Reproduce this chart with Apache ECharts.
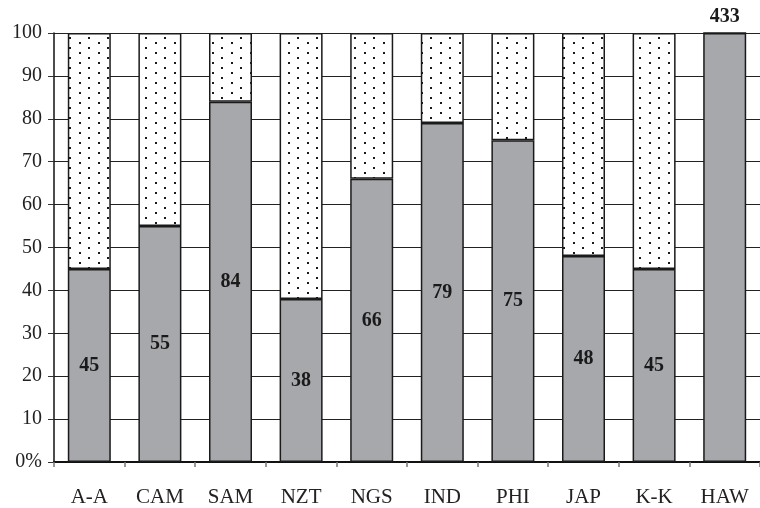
<!DOCTYPE html>
<html>
<head>
<meta charset="utf-8">
<script src="https://cdn.jsdelivr.net/npm/echarts@6/dist/echarts.min.js"></script>
<style>
html,body{margin:0;padding:0;background:#fff;}
#chart{width:760px;height:508px;}
</style>
</head>
<body>
<div id="chart"></div>
<script>
// ---- data ----
var categories = ['A-A','CAM','SAM','NZT','NGS','IND','PHI','JAP','K-K','HAW'];
var sharePct   = [45, 55, 84, 38, 66, 79, 75, 48, 45, 100];
var restPct    = [55, 45, 16, 62, 34, 21, 25, 52, 55, 0];
var barLabels  = ['45','55','84','38','66','79','75','48','45',''];
var hawCount   = '433';
var yTickLabels = ['0%','10','20','30','40','50','60','70','80','90','100'];

// dotted pattern
var pc = document.createElement('canvas');
pc.width = 19; pc.height = 10;
var ctx = pc.getContext('2d');
ctx.fillStyle = '#ffffff';
ctx.fillRect(0,0,19,10);
ctx.fillStyle = '#1a1a1a';
ctx.fillRect(3,2,2,2);
ctx.fillRect(12,7,2,2);

var font = 'Liberation Serif';
var shareData = sharePct.map(function(v,i){
  var item = {value: v};
  if (categories[i] === 'HAW') {
    item.label = {show: true, position: 'top', formatter: hawCount, distance: 6};
  }
  return item;
});

var chart = echarts.init(document.getElementById('chart'), null, {renderer:'canvas'});
chart.setOption({
  animation: false,
  backgroundColor: '#ffffff',
  grid: {left: 54, top: 33, width: 712, height: 430, containLabel: false},
  xAxis: {
    type: 'category',
    data: categories,
    axisLine: {lineStyle: {color: '#111', width: 2}},
    axisTick: {show: true, length: 5, lineStyle: {color: '#777', width: 1.5}},
    axisLabel: {fontFamily: font, fontSize: 21, color: '#222', margin: 25}
  },
  yAxis: {
    type: 'value',
    min: 0, max: 100, interval: 10,
    axisLine: {show: true, lineStyle: {color: '#111', width: 1.5}},
    axisTick: {show: true, length: 6, lineStyle: {color: '#333', width: 1}},
    axisLabel: {fontFamily: font, fontSize: 20, color: '#222', margin: 12,
      formatter: function(v){ return yTickLabels[Math.round(v/10)]; }},
    splitLine: {show: true, lineStyle: {color: '#222', width: 1}}
  },
  series: [
    {
      type: 'bar', stack: 's', barWidth: 43,
      data: shareData,
      itemStyle: {color: '#a7a8ac', borderColor: '#1a1a1a', borderWidth: 1.5},
      label: {show: true, position: 'inside', fontFamily: font, fontSize: 20, fontWeight: 'bold', color: '#1a1a1a',
        formatter: function(p){ return barLabels[p.dataIndex]; }}
    },
    {
      type: 'bar', stack: 's', barWidth: 43,
      data: restPct,
      itemStyle: {color: {image: pc, repeat: 'repeat'}, borderColor: '#1a1a1a', borderWidth: 1.5}
    }
  ]
});
</script>
</body>
</html>
